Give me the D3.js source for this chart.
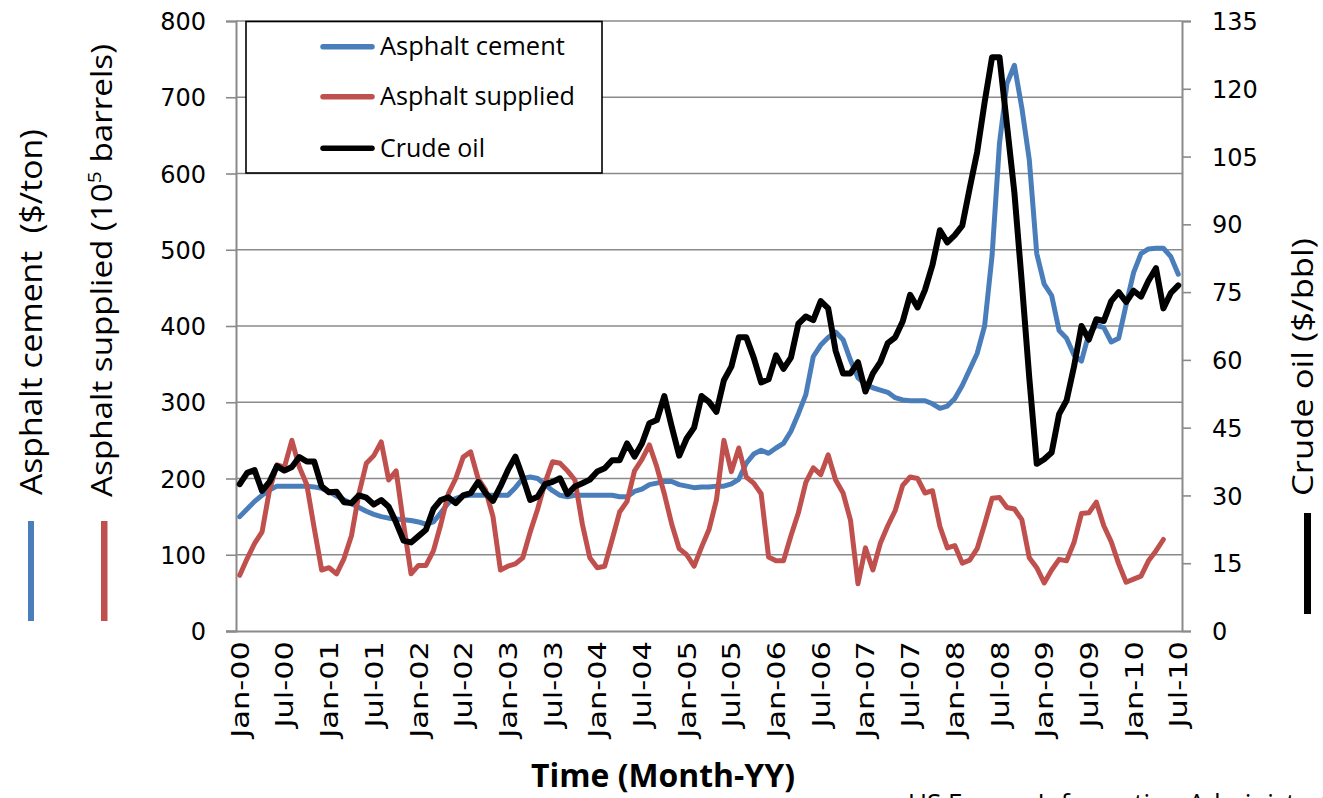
<!DOCTYPE html>
<html><head><meta charset="utf-8">
<script src="https://cdn.jsdelivr.net/npm/d3@7"></script>
<style>body{margin:0;background:#fff} svg{display:block}</style>
</head><body>
<svg id="chart" width="1323" height="798"></svg>
<script>
// ---- data (monthly, Jan-00 .. Jul-10) ----
const asphaltCement = [150,160,170,178,185,190,190,190,190,190,189,187,183,177,172,167,162,157,153,150,
148,147,146,145,143,140,143,155,168,174,177,178,178,178,178,178,178,188,200,202,
200,192,184,178,176,178,178,178,178,178,178,176,176,183,186,192,194,196,196,192,
190,188,189,189,190,190,193,199,220,232,237,233,240,246,262,285,310,360,375,385,
392,382,355,332,324,319,316,313,306,303,302,302,302,298,292,295,305,322,343,364,
400,492,640,718,742,686,618,495,455,440,394,384,362,354,390,401,398,379,384,428,
470,495,501,502,502,491,468];
const asphaltSupplied = [73,95,115,130,185,218,215,250,215,192,135,80,83,75,95,125,180,220,230,248,
198,210,140,75,86,86,105,140,180,200,228,235,200,185,150,80,85,88,96,130,
160,195,222,220,210,198,140,96,83,85,120,156,170,210,225,244,215,180,140,108,
100,85,110,133,172,250,209,240,202,194,180,97,92,92,125,155,195,214,205,231,
198,181,145,62,109,80,115,138,158,191,202,200,181,184,137,109,112,89,93,108,
140,174,175,162,160,146,96,83,63,80,94,92,116,154,155,169,138,117,88,64,
68,72,92,105,120];
const crudeOil = [32.5,35,35.6,31,33,36.5,35.5,36.3,38.5,37.5,37.5,32,30.7,30.8,28.5,28.3,30,29.5,28,29,
27.5,24,20,19.6,21,22.4,27,29,29.6,28.3,30,30.5,33,30.5,28.8,32,35.6,38.6,34,29,
29.7,32.5,33,33.8,30.3,32,32.7,33.5,35.3,36,37.8,37.8,41.5,38.6,41.5,46,46.7,52,45.2,38.8,
42.6,45,52,50.7,48.5,55.5,58.5,65,65,60.5,55,55.7,61,58,60.5,68,69.6,68.8,73,71.4,
62,57,57,59.5,53,57,59.5,63.7,65,68.5,74.4,71.6,75.5,81,88.7,86,87.6,89.7,98,106,
117,127,127,112,97,77,56,37,38,39.5,48,51,58.5,67.5,64.5,69,68.6,73,75,72.8,
75.3,74,77.5,80.3,71.4,74.8,76.5];
const leftTicks = [0,100,200,300,400,500,600,700,800];
const rightTicks = [0,15,30,45,60,75,90,105,120,135];
const xTickLabels = ["Jan-00","Jul-00","Jan-01","Jul-01","Jan-02","Jul-02","Jan-03","Jul-03","Jan-04","Jul-04",
"Jan-05","Jul-05","Jan-06","Jul-06","Jan-07","Jul-07","Jan-08","Jul-08","Jan-09","Jul-09","Jan-10","Jul-10"];
const seriesNames = ["Asphalt cement","Asphalt supplied","Crude oil"];
const seriesColors = ["#4a7ebb","#c0504d","#000000"];

const fmt = d3.timeFormat("%b-%y");
const months = d3.timeMonth.range(new Date(2000,0,1), new Date(2010,7,1)).map(fmt);

// ---- layout ----
const L = 236, R = 1182, T = 21, B = 631;
const svg = d3.select("#chart");
const x = d3.scaleBand().domain(months).range([L, R]).padding(0);
const cx = m => x(m) + x.bandwidth()/2;
const yL = d3.scaleLinear().domain([0,800]).range([B, T]);
const yR = d3.scaleLinear().domain([0,135]).range([B, T]);
const grey = "#8a8a8a";

// gridlines
svg.append("g").selectAll("line").data(leftTicks.filter(d=>d>0)).join("line")
  .attr("x1", L).attr("x2", R).attr("y1", d=>yL(d)).attr("y2", d=>yL(d))
  .attr("stroke", grey).attr("stroke-width", 1.6);

// left axis
const gL = svg.append("g").attr("transform", `translate(${L},0)`)
  .call(d3.axisLeft(yL).tickValues(leftTicks).tickSize(10).tickPadding(20).tickFormat(d3.format("d")));
gL.select(".domain").attr("stroke", grey).attr("stroke-width", 2);
gL.selectAll(".tick line").attr("stroke", grey).attr("stroke-width", 1.6);
gL.selectAll(".tick text").attr("font-family","DejaVu Sans, Verdana, sans-serif").attr("font-size", 24)
  .attr("fill","#000").attr("x", -30).attr("dy","0.36em");

// right axis
const gR = svg.append("g").attr("transform", `translate(${R},0)`)
  .call(d3.axisRight(yR).tickValues(rightTicks).tickSize(9).tickFormat(d3.format("d")));
gR.select(".domain").attr("stroke", grey).attr("stroke-width", 2);
gR.selectAll(".tick line").attr("stroke", grey).attr("stroke-width", 1.6);
gR.selectAll(".tick text").attr("font-family","DejaVu Sans, Verdana, sans-serif").attr("font-size", 24)
  .attr("fill","#000").attr("x", 30).attr("dy","0.36em");

// bottom axis line
svg.append("line").attr("x1", L-10).attr("x2", R).attr("y1", B+0.5).attr("y2", B+0.5)
  .attr("stroke", grey).attr("stroke-width", 2);

// x tick labels (rotated)
svg.append("g").selectAll("text").data(xTickLabels).join("text")
  .attr("transform", d => `translate(${cx(d)},641) rotate(-90) scale(1.22,1)`)
  .attr("text-anchor","end").attr("dy","0.36em")
  .attr("font-family","DejaVu Sans, Verdana, sans-serif").attr("font-size", 25).attr("fill","#000")
  .text(d => d);

// lines
const mk = (scale) => d3.line().x((d,i)=>cx(months[i])).y(d=>scale(d));
const drawLine = (data, scale, color, w) => svg.append("path").datum(data)
  .attr("d", mk(scale)).attr("fill","none").attr("stroke", color).attr("stroke-width", w)
  .attr("stroke-linejoin","round").attr("stroke-linecap","round");
drawLine(asphaltCement, yL, seriesColors[0], 5);
drawLine(asphaltSupplied, yL, seriesColors[1], 5);
drawLine(crudeOil, yR, seriesColors[2], 6);

// legend
const lg = svg.append("g");
lg.append("rect").attr("x",246).attr("y",21.5).attr("width",356).attr("height",151.5)
  .attr("fill","#fff").attr("stroke","#000").attr("stroke-width",1.6);
const legY = [46.7, 96.7, 148.3];
const legLen = [185, 195, 105];
seriesNames.forEach((n,i)=>{
  lg.append("line").attr("x1",323).attr("x2",372).attr("y1",legY[i]).attr("y2",legY[i])
    .attr("stroke",seriesColors[i]).attr("stroke-width",5.5).attr("stroke-linecap","round");
  const t = lg.append("text").attr("x",0).attr("y",0)
    .attr("font-family","Open Sans, Noto Sans, sans-serif").attr("font-size",25).attr("fill","#000").text(n);
  const k = legLen[i]/t.node().getBBox().width;
  t.attr("transform",`translate(380,${legY[i]+8.5}) scale(${k},1)`);
});

// helper: fit text length
function placeText(parent, x0, y0, rot, target, build, size, weight){
  const g = parent.append("g").attr("transform",`translate(${x0},${y0}) rotate(${rot})`);
  const t = g.append("text").attr("text-anchor","middle")
    .attr("font-family","Open Sans, Noto Sans, sans-serif").attr("font-size",size)
    .attr("font-weight",weight||"normal").attr("fill","#000");
  build(t);
  const k = target / t.node().getBBox().width;
  t.attr("transform",`scale(${k},1)`);
  return t;
}
placeText(svg, 42, 312, -90, 366, t=>t.text("Asphalt cement  ($/ton)").attr("xml:space","preserve"), 31);
placeText(svg, 112, 270.5, -90, 453, t=>{
  t.append("tspan").text("Asphalt supplied (10");
  t.append("tspan").attr("font-size",18).attr("dy",-11).text("5");
  t.append("tspan").attr("dy",11).text(" barrels)");
}, 28.5);
placeText(svg, 1313, 367, -90, 258, t=>t.text("Crude oil ($/bbl)"), 28.5);
placeText(svg, 663, 787, 0, 264, t=>t.text("Time (Month-YY)"), 32, "bold");

// colour key bars
svg.append("rect").attr("x",28).attr("y",521).attr("width",6).attr("height",100).attr("fill",seriesColors[0]);
svg.append("rect").attr("x",101).attr("y",521).attr("width",6.5).attr("height",100).attr("fill",seriesColors[1]);
svg.append("rect").attr("x",1304).attr("y",513).attr("width",7).attr("height",101).attr("fill",seriesColors[2]);

// source (cut off at the bottom edge, as in the reference)
svg.append("text").attr("x",908).attr("y",812).attr("font-family","Open Sans, Noto Sans, sans-serif")
  .attr("font-size",26).attr("fill","#000").text("US Energy Information Administration");
</script>
</body></html>
